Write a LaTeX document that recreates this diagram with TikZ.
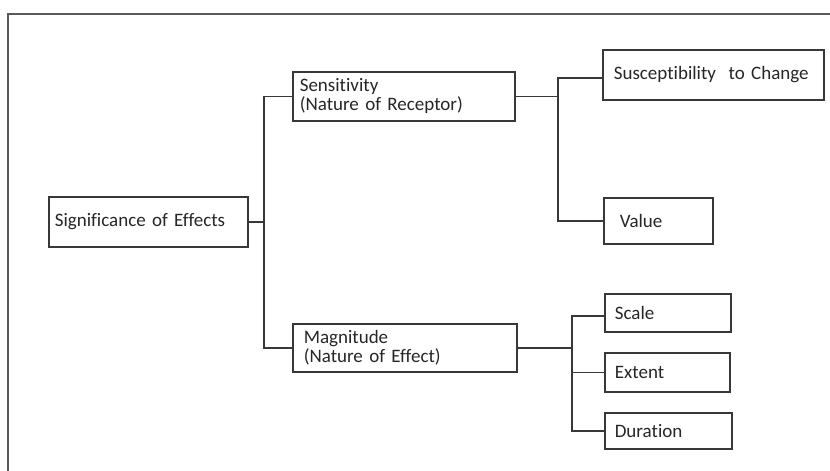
\documentclass[tikz,border=0pt]{standalone}
\usepackage{fontspec}
\setmainfont{Carlito}[Ligatures=NoCommon]
\usepackage{xcolor}
\definecolor{edge}{HTML}{383838}
\definecolor{frame}{HTML}{5A5A5A}

\begin{document}
\begin{tikzpicture}[x=1pt, y=-1pt,
  every node/.style={font=\fontsize{19}{19}\selectfont, text=black!85},
  entry/.style={draw=edge, line width=1.6pt, rectangle, anchor=north west, align=left, inner ysep=0pt},
  link/.style={draw=edge, line width=1.6pt}]
  \useasboundingbox (0,0) rectangle (830,471);
  \clip (0,0) rectangle (830,471);
  % outer frame, cut off at right and bottom
  \draw[frame, line width=1.8pt] (8,14) rectangle (850,490);

  % root box
  \node[entry, inner xsep=6pt, text width=187pt, minimum height=50pt] (signif) at (48,196) {Significance of Effects};
  % second level
  \node[entry, inner xsep=7pt, text width=208pt, minimum height=49pt] (sens) at (292,71) {Sensitivity\\(Nature of Receptor)};
  \node[entry, inner xsep=11pt, text width=202pt, minimum height=48pt] (magn) at (292,323) {Magnitude\\(Nature of Effect)};
  % third level, sensitivity side
  \node[entry, inner xsep=11pt, text width=199pt, minimum height=50pt] (suscept) at (602,49) {Susceptibility\ \ to Change};
  \node[entry, inner xsep=16pt, text width=77pt, minimum height=46pt] (value) at (603,197) {Value};
  % third level, magnitude side
  \node[entry, inner xsep=10pt, text width=106pt, minimum height=38pt] (scale) at (604,293) {Scale};
  \node[entry, inner xsep=10pt, text width=105pt, minimum height=39pt] (extent) at (604,352) {Extent};
  \node[entry, inner xsep=10pt, text width=107pt, minimum height=36pt] (duration) at (604,412) {Duration};

  % junctions
  \coordinate (jroot) at (264,221);
  \coordinate (jsens) at (558,95);
  \coordinate (jmagn) at (572,347);

  % elbow connectors
  \draw[link] (signif.east) -- (signif.east -| jroot);
  \draw[link] (sens.west) -| (jroot) |- (magn.west);
  \draw[link] (sens.east) -- (sens.east -| jsens);
  \draw[link] ([yshift=-3pt]suscept.west) -| (jsens) |- (value.west);
  \draw[link] (magn.east) -- (magn.east -| jmagn);
  \draw[link] ([yshift=-3pt]scale.west) -| (jmagn) |- (duration.west);
  \draw[link] (extent.west) -- (extent.west -| jmagn);
\end{tikzpicture}
\end{document}
